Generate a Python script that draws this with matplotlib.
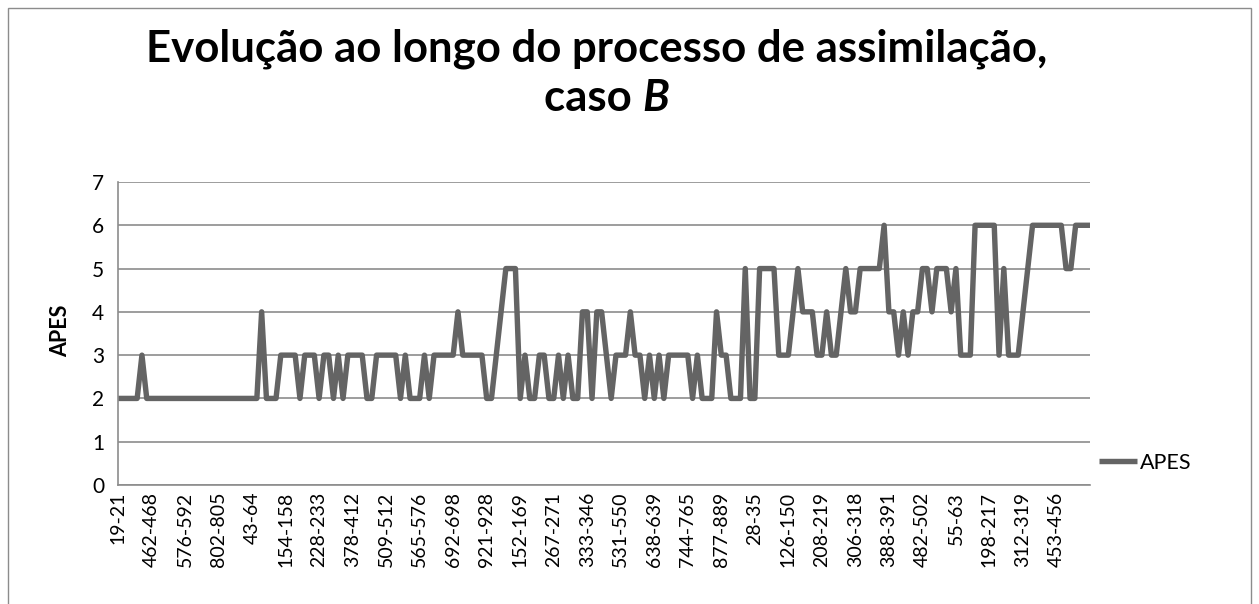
import matplotlib
matplotlib.use('Agg')
import matplotlib.pyplot as plt
from matplotlib.patches import Rectangle
import numpy as np

plt.rcParams['font.family'] = ['Lato', 'DejaVu Sans']

# APES level per assimilation step
apes = [
    2, 2, 2, 2, 2, 3, 2,
    2, 2, 2, 2, 2, 2, 2,
    2, 2, 2, 2, 2, 2, 2,
    2, 2, 2, 2, 2, 2, 2,
    2, 2, 4, 2, 2, 2, 3,
    3, 3, 3, 2, 3, 3, 3,
    2, 3, 3, 2, 3, 2, 3,
    3, 3, 3, 2, 2, 3, 3,
    3, 3, 3, 2, 3, 2, 2,
    2, 3, 2, 3, 3, 3, 3,
    3, 4, 3, 3, 3, 3, 3,
    2, 2, 3, 4, 5, 5, 5,
    2, 3, 2, 2, 3, 3, 2,
    2, 3, 2, 3, 2, 2, 4,
    4, 2, 4, 4, 3, 2, 3,
    3, 3, 4, 3, 3, 2, 3,
    2, 3, 2, 3, 3, 3, 3,
    3, 2, 3, 2, 2, 2, 4,
    3, 3, 2, 2, 2, 5, 2,
    2, 5, 5, 5, 5, 3, 3,
    3, 4, 5, 4, 4, 4, 3,
    3, 4, 3, 3, 4, 5, 4,
    4, 5, 5, 5, 5, 5, 6,
    4, 4, 3, 4, 3, 4, 4,
    5, 5, 4, 5, 5, 5, 4,
    5, 3, 3, 3, 6, 6, 6,
    6, 6, 3, 5, 3, 3, 3,
    4, 5, 6, 6, 6, 6, 6,
    6, 6, 5, 5, 6, 6, 6,
    6,
]

# only every 7th category label is shown on the axis
tick_labels = ['19-21', '462-468', '576-592', '802-805', '43-64', '154-158',
               '228-233', '378-412', '509-512', '565-576', '692-698', '921-928',
               '152-169', '267-271', '333-346', '531-550', '638-639', '744-765',
               '877-889', '28-35', '126-150', '208-219', '306-318', '388-391',
               '482-502', '55-63', '198-217', '312-319', '453-456']
label_step = 7

W, H = 1259, 604
fig = plt.figure(figsize=(W / 100, H / 100), dpi=100)
ax = fig.add_axes([118 / W, 1 - 485 / H, (1090 - 118) / W, (485 - 182) / H])

x = np.arange(len(apes))
ax.plot(x, apes, color='#646464', lw=3.9, solid_joinstyle='round',
        solid_capstyle='butt', clip_on=False, label='APES')

ax.set_xlim(0, len(apes) - 1)
ax.set_ylim(0, 7)
ax.set_yticks(range(8))
ax.grid(axis='y', color='#8c8c8c', lw=1.2)
ax.set_axisbelow(True)
for s in ['top', 'right']:
    ax.spines[s].set_visible(False)
for s in ['left', 'bottom']:
    ax.spines[s].set_color('#8c8c8c')
    ax.spines[s].set_linewidth(1.2)

ax.set_xticks(np.arange(len(tick_labels)) * label_step)
ax.set_xticklabels(tick_labels, rotation=90, va='top', ha='center')
ax.tick_params(axis='x', length=0, pad=5, labelsize=14)
ax.tick_params(axis='y', length=0, pad=10, labelsize=15)

fig.text(61 / W, 1 - 331 / H, 'APES', rotation=90, ha='center', va='center',
         fontsize=15.5, fontweight='bold')

ax.legend(loc='center left', bbox_to_anchor=(1099 / W, 1 - 463 / H),
          bbox_transform=fig.transFigure, frameon=False, fontsize=15.5,
          handlelength=1.75, handletextpad=0.15, borderpad=0, borderaxespad=0)

# title, second line has an italic B
fig.text(597 / W, 1 - 49 / H, 'Evolução ao longo do processo de assimilação,',
         ha='center', va='center', fontsize=31.5, fontweight='bold')
t1 = fig.text(0, 1 - 98 / H, 'caso ', ha='left', va='center', fontsize=31.5,
              fontweight='bold')
t2 = fig.text(0, 1 - 98 / H, 'B', ha='left', va='center', fontsize=31.5,
              fontweight='bold', style='italic')
r = fig.canvas.get_renderer()
w1 = t1.get_window_extent(r).width
w2 = t2.get_window_extent(r).width
x0 = 607 - (w1 + w2) / 2
t1.set_x(x0 / W)
t2.set_x((x0 + w1) / W)

fig.add_artist(Rectangle((8 / W, -0.05), (1251 - 8) / W, 1.05 - 8 / H,
                         transform=fig.transFigure, fill=False,
                         ec='#8c8c8c', lw=1))

fig.savefig('out.png', dpi=100)
